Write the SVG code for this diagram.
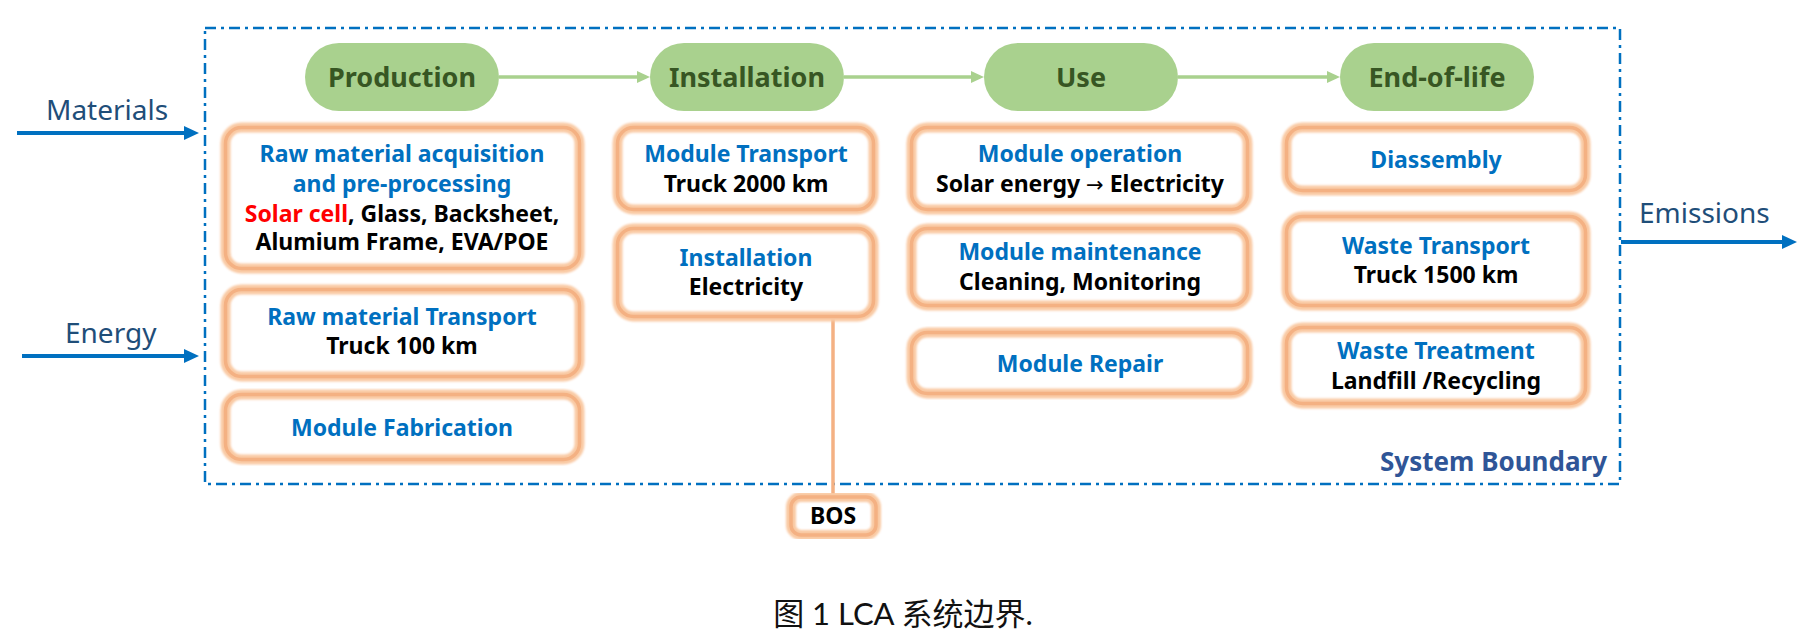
<svg xmlns="http://www.w3.org/2000/svg" width="1805" height="642" viewBox="0 0 1805 642">
<style>
  .pill { fill:#A9D18E; }
  .pill-t { font-family:"Noto Sans","Liberation Sans",sans-serif; font-weight:700; font-size:27px; fill:#375623; text-anchor:middle; }
  .bx-fill { fill:#FFFFFF; stroke:none; }
  .bx-glow { fill:none; stroke:#F9C9A3; stroke-width:10; filter:url(#soft); }
  .bx-line { fill:none; stroke:#F4B183; stroke-width:3.5; }
  .t { font-family:"Noto Sans","Liberation Sans",sans-serif; font-weight:700; font-size:23px; text-anchor:middle; }
  .h { fill:#0070C0; }
  .k { fill:#000000; }
  .r { fill:#FF0000; }
  .arr { font-family:"DejaVu Sans",sans-serif; font-weight:400; font-size:21px; }
  .io { font-family:"Noto Sans","Liberation Sans",sans-serif; font-size:28px; fill:#1F4E79; }
  .sb { font-family:"Noto Sans","Liberation Sans",sans-serif; font-weight:700; font-size:26px; fill:#2F5597; text-anchor:end; }
  .cap { font-family:Lato,"Noto Sans CJK SC",sans-serif; font-size:31px; fill:#111111; text-anchor:middle; }
  .boundary { fill:none; stroke:#0070C0; stroke-width:2.5; stroke-dasharray:11 5 3 5; }
  .g-arrow { fill:none; stroke:#A9D18E; stroke-width:3.5; marker-end:url(#gHead); }
  .b-arrow { fill:none; stroke:#0070C0; stroke-width:4; marker-end:url(#bHead); }
  .bos-link-glow { fill:none; stroke:#F9C9A3; stroke-width:8; filter:url(#soft); }
  .bos-link { fill:none; stroke:#F4B183; stroke-width:3.5; }
</style>
<defs>
  <filter id="soft" x="-10%" y="-10%" width="120%" height="120%">
    <feGaussianBlur stdDeviation="1.2"/>
  </filter>
  <marker id="gHead" markerUnits="userSpaceOnUse" markerWidth="14" markerHeight="14" refX="6" refY="7" orient="auto">
    <path d="M0,1 L13,7 L0,13 z" fill="#A9D18E"/>
  </marker>
  <marker id="bHead" markerUnits="userSpaceOnUse" markerWidth="16" markerHeight="16" refX="6" refY="8" orient="auto">
    <path d="M0,1 L15,8 L0,15 z" fill="#0070C0"/>
  </marker>
</defs>
<rect width="1805" height="642" fill="#FFFFFF"/>

<g id="system-boundary">
  <rect class="boundary" x="205" y="28" width="1415" height="456"/>
  <text class="sb" x="1607" y="471">System Boundary</text>
</g>

<g id="connectors">
  <line class="g-arrow" x1="499" y1="77" x2="643" y2="77"/>
  <line class="g-arrow" x1="844" y1="77" x2="977" y2="77"/>
  <line class="g-arrow" x1="1178" y1="77" x2="1333" y2="77"/>
  <line class="b-arrow" x1="17" y1="133" x2="190" y2="133"/>
  <line class="b-arrow" x1="22" y1="356" x2="190" y2="356"/>
  <line class="b-arrow" x1="1621" y1="242" x2="1788" y2="242"/>
  <line class="bos-link-glow" x1="833" y1="318" x2="833" y2="496"/>
  <line class="bos-link" x1="833" y1="318" x2="833" y2="496"/>
</g>

<g id="materials"><text class="io" x="46" y="120">Materials</text></g>
<g id="energy"><text class="io" x="65" y="343">Energy</text></g>
<g id="emissions"><text class="io" x="1639" y="223">Emissions</text></g>

<g id="production">
  <rect class="pill" x="305" y="43" width="194" height="68" rx="34"/>
  <text class="pill-t" x="402" y="87">Production</text>
</g>
<g id="installation-stage">
  <rect class="pill" x="650" y="43" width="194" height="68" rx="34"/>
  <text class="pill-t" x="747" y="87">Installation</text>
</g>
<g id="use">
  <rect class="pill" x="984" y="43" width="194" height="68" rx="34"/>
  <text class="pill-t" x="1081" y="87">Use</text>
</g>
<g id="end-of-life">
  <rect class="pill" x="1340" y="43" width="194" height="68" rx="34"/>
  <text class="pill-t" x="1437" y="87">End-of-life</text>
</g>

<!-- Column 1 -->
<g id="raw-material-acquisition">
  <rect class="bx-fill" x="225.5" y="127.5" width="354" height="141" rx="16"/>
  <rect class="bx-glow" x="225.5" y="127.5" width="354" height="141" rx="16"/>
  <rect class="bx-line" x="225.5" y="127.5" width="354" height="141" rx="16"/>
  <text class="t h" x="402" y="162">Raw material acquisition</text>
  <text class="t h" x="402" y="192">and pre-processing</text>
  <text class="t k" x="402" y="222"><tspan class="r">Solar cell</tspan>, Glass, Backsheet,</text>
  <text class="t k" x="402" y="250">Alumium Frame, EVA/POE</text>
</g>
<g id="raw-material-transport">
  <rect class="bx-fill" x="225.5" y="289.5" width="354" height="87" rx="16"/>
  <rect class="bx-glow" x="225.5" y="289.5" width="354" height="87" rx="16"/>
  <rect class="bx-line" x="225.5" y="289.5" width="354" height="87" rx="16"/>
  <text class="t h" x="402" y="325">Raw material Transport</text>
  <text class="t k" x="402" y="354">Truck 100 km</text>
</g>
<g id="module-fabrication">
  <rect class="bx-fill" x="225.5" y="394.5" width="354" height="65" rx="16"/>
  <rect class="bx-glow" x="225.5" y="394.5" width="354" height="65" rx="16"/>
  <rect class="bx-line" x="225.5" y="394.5" width="354" height="65" rx="16"/>
  <text class="t h" x="402" y="436">Module Fabrication</text>
</g>

<!-- Column 2 -->
<g id="module-transport">
  <rect class="bx-fill" x="617.5" y="127.5" width="256" height="82" rx="16"/>
  <rect class="bx-glow" x="617.5" y="127.5" width="256" height="82" rx="16"/>
  <rect class="bx-line" x="617.5" y="127.5" width="256" height="82" rx="16"/>
  <text class="t h" x="746" y="162">Module Transport</text>
  <text class="t k" x="746" y="192">Truck 2000 km</text>
</g>
<g id="installation">
  <rect class="bx-fill" x="617.5" y="228.5" width="256" height="88" rx="16"/>
  <rect class="bx-glow" x="617.5" y="228.5" width="256" height="88" rx="16"/>
  <rect class="bx-line" x="617.5" y="228.5" width="256" height="88" rx="16"/>
  <text class="t h" x="746" y="266">Installation</text>
  <text class="t k" x="746" y="295">Electricity</text>
</g>
<g id="bos">
  <rect class="bx-fill" x="791" y="497" width="85" height="38" rx="10"/>
  <rect class="bx-glow" x="791" y="497" width="85" height="38" rx="10"/>
  <rect class="bx-line" x="791" y="497" width="85" height="38" rx="10"/>
  <text class="t k" x="833" y="524">BOS</text>
</g>

<!-- Column 3 -->
<g id="module-operation">
  <rect class="bx-fill" x="911.5" y="127.5" width="336" height="82" rx="16"/>
  <rect class="bx-glow" x="911.5" y="127.5" width="336" height="82" rx="16"/>
  <rect class="bx-line" x="911.5" y="127.5" width="336" height="82" rx="16"/>
  <text class="t h" x="1080" y="162">Module operation</text>
  <text class="t k" x="1080" y="192">Solar energy <tspan class="arr">→</tspan> Electricity</text>
</g>
<g id="module-maintenance">
  <rect class="bx-fill" x="911.5" y="228.5" width="336" height="77" rx="16"/>
  <rect class="bx-glow" x="911.5" y="228.5" width="336" height="77" rx="16"/>
  <rect class="bx-line" x="911.5" y="228.5" width="336" height="77" rx="16"/>
  <text class="t h" x="1080" y="260">Module maintenance</text>
  <text class="t k" x="1080" y="290">Cleaning, Monitoring</text>
</g>
<g id="module-repair">
  <rect class="bx-fill" x="911.5" y="332.5" width="336" height="61" rx="16"/>
  <rect class="bx-glow" x="911.5" y="332.5" width="336" height="61" rx="16"/>
  <rect class="bx-line" x="911.5" y="332.5" width="336" height="61" rx="16"/>
  <text class="t h" x="1080" y="372">Module Repair</text>
</g>

<!-- Column 4 -->
<g id="diassembly">
  <rect class="bx-fill" x="1286.5" y="127.5" width="299" height="63" rx="16"/>
  <rect class="bx-glow" x="1286.5" y="127.5" width="299" height="63" rx="16"/>
  <rect class="bx-line" x="1286.5" y="127.5" width="299" height="63" rx="16"/>
  <text class="t h" x="1436" y="168">Diassembly</text>
</g>
<g id="waste-transport">
  <rect class="bx-fill" x="1286.5" y="216.5" width="299" height="89" rx="16"/>
  <rect class="bx-glow" x="1286.5" y="216.5" width="299" height="89" rx="16"/>
  <rect class="bx-line" x="1286.5" y="216.5" width="299" height="89" rx="16"/>
  <text class="t h" x="1436" y="254">Waste Transport</text>
  <text class="t k" x="1436" y="283">Truck 1500 km</text>
</g>
<g id="waste-treatment">
  <rect class="bx-fill" x="1286.5" y="327.5" width="299" height="76" rx="16"/>
  <rect class="bx-glow" x="1286.5" y="327.5" width="299" height="76" rx="16"/>
  <rect class="bx-line" x="1286.5" y="327.5" width="299" height="76" rx="16"/>
  <text class="t h" x="1436" y="359">Waste Treatment</text>
  <text class="t k" x="1436" y="389">Landfill /Recycling</text>
</g>

<g id="caption">
  <text class="cap" x="903" y="625">图 1 LCA 系统边界.</text>
</g>
</svg>
